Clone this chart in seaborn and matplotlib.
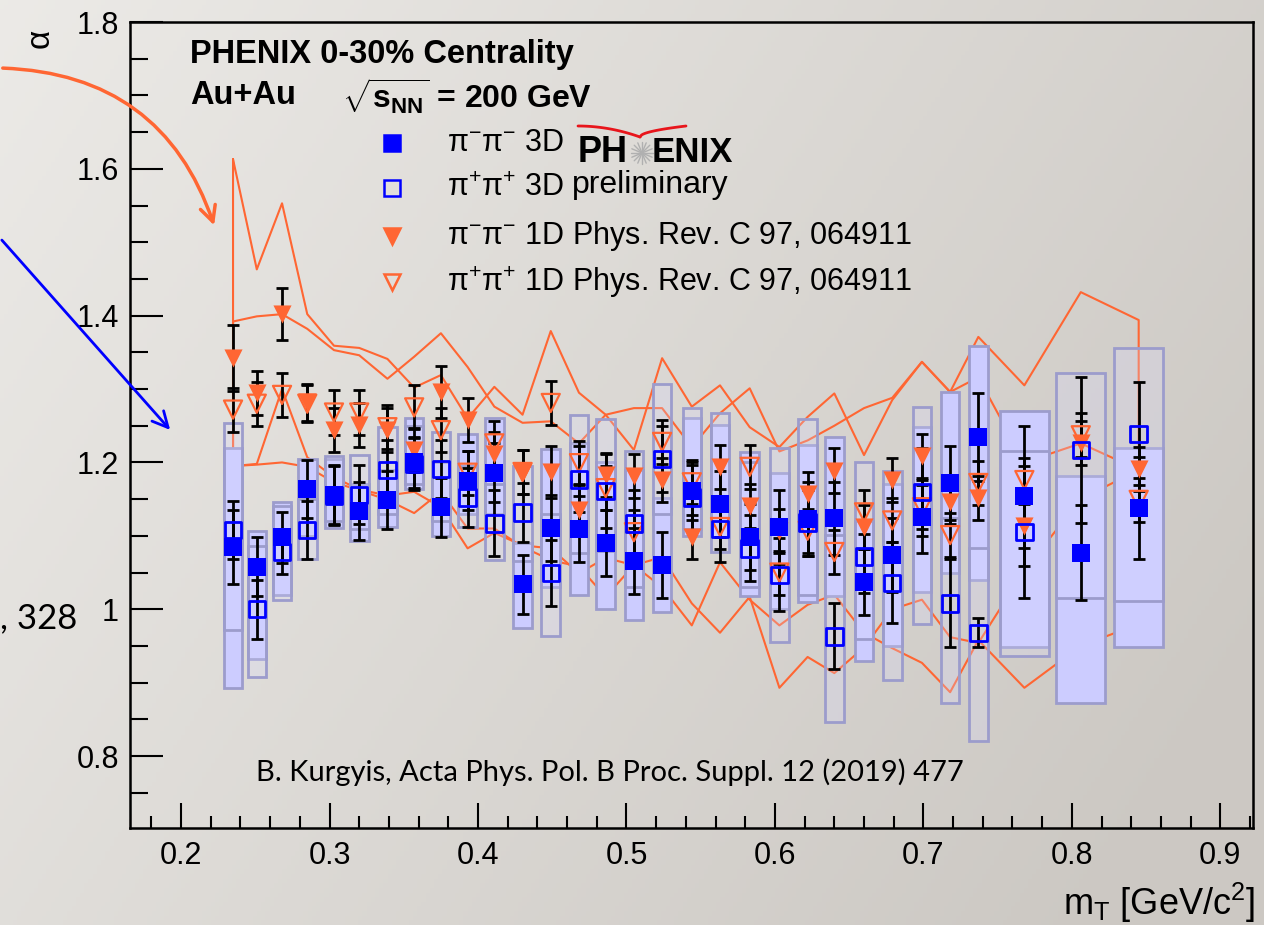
import numpy as np
import pandas as pd
import matplotlib
matplotlib.use('Agg')
import matplotlib.pyplot as plt
import seaborn as sns
from matplotlib.patches import Rectangle, FancyArrowPatch
from matplotlib.lines import Line2D

sns.set_style('ticks')
plt.rcParams['font.family'] = ['Liberation Sans', 'DejaVu Sans']
plt.rcParams['mathtext.fontset'] = 'custom'
plt.rcParams['mathtext.rm'] = 'Liberation Sans'
plt.rcParams['mathtext.it'] = 'Liberation Sans:italic'
plt.rcParams['mathtext.bf'] = 'Liberation Sans:bold'
for key in ['text.color', 'axes.labelcolor', 'xtick.color', 'ytick.color', 'axes.edgecolor']:
    plt.rcParams[key] = 'black'

# m_T bin centres [GeV/c^2]
mt = [0.235, 0.251, 0.268, 0.285, 0.303, 0.320, 0.339, 0.357, 0.375, 0.393,
      0.411, 0.430, 0.449, 0.468, 0.486, 0.505, 0.524, 0.544, 0.563, 0.583,
      0.603, 0.622, 0.640, 0.660, 0.679, 0.699, 0.718, 0.737, 0.768, 0.806, 0.845]
box_w = [0.0125] * 28 + [0.033] * 3

# 3D (preliminary) alpha values
a_mm3d = [1.085, 1.058, 1.098, 1.164, 1.156, 1.134, 1.149, 1.200, 1.139, 1.175,
          1.186, 1.034, 1.111, 1.109, 1.090, 1.066, 1.060, 1.161, 1.143, 1.098,
          1.112, 1.123, 1.124, 1.037, 1.074, 1.126, 1.172, 1.235, 1.154, 1.077, 1.138]
a_pp3d = [1.108, 1.000, 1.078, 1.108, 1.155, 1.156, 1.190, 1.198, 1.191, 1.152,
          1.117, 1.132, 1.049, 1.177, 1.161, 1.117, 1.205, 1.152, 1.109, 1.083,
          1.047, 1.118, 0.963, 1.072, 1.036, 1.160, 1.008, 0.968, 1.105, 1.217, 1.239]
err_mm3d = [0.050, 0.040, 0.035, 0.040, 0.040, 0.040, 0.040, 0.035, 0.040, 0.040,
            0.040, 0.040, 0.045, 0.045, 0.045, 0.045, 0.045, 0.040, 0.045, 0.045,
            0.050, 0.050, 0.050, 0.045, 0.050, 0.050, 0.050, 0.060, 0.095, 0.065, 0.070]
err_pp3d = [0.040, 0.040, 0.030, 0.040, 0.040, 0.040, 0.040, 0.035, 0.040, 0.040,
            0.045, 0.040, 0.045, 0.045, 0.050, 0.045, 0.045, 0.045, 0.045, 0.045,
            0.050, 0.045, 0.045, 0.050, 0.055, 0.060, 0.060, 0.020, 0.090, 0.100, 0.070]
# systematic boxes (low, high)
sys_mm_lo = [0.893, 0.932, 1.019, 1.100, 1.111, 1.093, 1.112, 1.164, 1.100, 1.130,
             1.130, 0.974, 1.030, 1.019, 1.000, 0.985, 0.996, 1.100, 1.099, 1.018,
             1.000, 1.010, 1.018, 0.930, 0.950, 1.023, 1.050, 1.040, 0.949, 0.872, 0.949]
sys_mm_hi = [1.220, 1.107, 1.146, 1.205, 1.205, 1.170, 1.190, 1.260, 1.200, 1.239,
             1.260, 1.090, 1.218, 1.226, 1.200, 1.190, 1.152, 1.260, 1.251, 1.214,
             1.186, 1.224, 1.235, 1.120, 1.170, 1.248, 1.296, 1.359, 1.270, 1.181, 1.219]
sys_pp_lo = [0.972, 0.908, 1.013, 1.068, 1.120, 1.110, 1.130, 1.170, 1.120, 1.112,
             1.067, 1.066, 0.963, 1.077, 1.080, 1.030, 1.130, 1.110, 1.078, 1.030,
             0.955, 1.020, 0.846, 0.960, 0.904, 0.980, 0.872, 0.820, 0.936, 1.015, 1.011]
sys_pp_hi = [1.254, 1.086, 1.140, 1.150, 1.209, 1.210, 1.248, 1.250, 1.241, 1.195,
             1.170, 1.195, 1.130, 1.265, 1.259, 1.216, 1.307, 1.274, 1.267, 1.200,
             1.220, 1.259, 1.101, 1.200, 1.188, 1.276, 1.124, 1.083, 1.216, 1.322, 1.356]

# 1D values, Phys. Rev. C 97, 064911
a_mm1d = [1.342, 1.295, 1.402, 1.282, 1.244, 1.251, 1.244, 1.217, 1.296, 1.258,
          1.211, 1.187, 1.187, 1.135, 1.183, 1.181, 1.176, 1.098, 1.194, 1.141,
          1.107, 1.157, 1.189, 1.112, 1.176, 1.209, 1.146, 1.151, 1.113, 1.226, 1.191]
a_pp1d = [1.272, 1.280, 1.292, 1.280, 1.268, 1.268, 1.248, 1.275, 1.244, 1.186,
          1.226, 1.187, 1.281, 1.199, 1.165, 1.105, 1.228, 1.173, 1.112, 1.194,
          1.050, 1.107, 1.078, 1.132, 1.121, 1.139, 1.101, 1.172, 1.176, 1.237, 1.149]
err_mm1d = [0.045, 0.030, 0.035, 0.025, 0.030, 0.030, 0.030, 0.030, 0.035, 0.030,
            0.030, 0.030, 0.035, 0.035, 0.030, 0.030, 0.030, 0.030, 0.030, 0.030,
            0.030, 0.030, 0.030, 0.030, 0.030, 0.030, 0.030, 0.030, 0.030, 0.030, 0.030]
err_pp1d = [0.030, 0.030, 0.030, 0.025, 0.030, 0.030, 0.030, 0.030, 0.030, 0.030,
            0.030, 0.030, 0.030, 0.030, 0.030, 0.030, 0.030, 0.030, 0.030, 0.030,
            0.030, 0.030, 0.030, 0.030, 0.030, 0.030, 0.030, 0.030, 0.030, 0.030, 0.030]
# 1D systematic band outlines
band_mm_hi = [1.613, 1.463, 1.553, 1.402, 1.359, 1.356, 1.341, 1.302, 1.319, 1.260,
              1.303, 1.265, 1.379, 1.295, 1.265, 1.217, 1.342, 1.276, 1.305, 1.248,
              1.221, 1.262, 1.294, 1.210, 1.285, 1.337, 1.296, 1.371, 1.305, 1.432, 1.394]
band_mm_lo = [1.195, 1.198, 1.300, 1.207, 1.180, 1.163, 1.155, 1.160, 1.139, 1.083,
              1.104, 1.087, 1.083, 1.049, 1.070, 1.060, 1.071, 1.008, 0.968, 1.017,
              0.893, 0.935, 0.913, 0.948, 1.000, 1.013, 0.962, 0.954, 1.053, 1.150, 1.190]
band_pp_hi = [1.392, 1.399, 1.402, 1.382, 1.353, 1.346, 1.314, 1.344, 1.376, 1.330,
              1.276, 1.254, 1.256, 1.226, 1.265, 1.274, 1.274, 1.221, 1.267, 1.301,
              1.215, 1.230, 1.250, 1.274, 1.288, 1.337, 1.296, 1.316, 1.200, 1.226, 1.190]
band_pp_lo = [1.195, 1.197, 1.200, 1.194, 1.173, 1.162, 1.149, 1.131, 1.160, 1.110,
              1.110, 1.085, 1.067, 1.058, 1.017, 1.060, 1.030, 0.978, 1.064, 1.013,
              0.978, 1.006, 1.020, 0.968, 0.947, 0.927, 0.887, 0.958, 0.893, 0.950, 0.980]

df = pd.DataFrame({'mt': mt, 'mm3d': a_mm3d, 'pp3d': a_pp3d,
                   'mm1d': a_mm1d, 'pp1d': a_pp1d})

W, H = 1264, 925
ORANGE = '#ff6633'
BLUE = '#0000ff'
fig = plt.figure(figsize=(W / 100, H / 100), dpi=100)

# slide background
bg = fig.add_axes([0, 0, 1, 1], zorder=-10)
yy, xx = np.mgrid[0:1:200j, 0:1:300j]
t = np.clip(0.75 * xx + 0.35 * yy, 0, 1)
c0 = np.array([0.925, 0.918, 0.905])
c1 = np.array([0.80, 0.785, 0.765])
bg.imshow(c0 + (c1 - c0) * t[..., None], extent=[0, 1, 0, 1], aspect='auto')
bg.axis('off')

ax = fig.add_axes([130 / W, 1 - 828 / H, (1253 - 130) / W, (828 - 22) / H])
ax.patch.set_alpha(0)

# 1D systematic bands (outlines)
for hi, lo in [(band_mm_hi, band_mm_lo), (band_pp_hi, band_pp_lo)]:
    xs = mt + mt[::-1] + [mt[0]]
    ys = hi + lo[::-1] + [hi[0]]
    ax.plot(xs, ys, color=ORANGE, lw=1.5, zorder=1)

# 3D systematic boxes
for i in range(len(mt)):
    w = box_w[i]
    ax.add_patch(Rectangle((mt[i] - w / 2, sys_mm_lo[i]), w, sys_mm_hi[i] - sys_mm_lo[i],
                           facecolor='#ccccff', edgecolor='#9c9ccc', lw=2, zorder=2))
    ax.add_patch(Rectangle((mt[i] - w / 2, sys_pp_lo[i]), w, sys_pp_hi[i] - sys_pp_lo[i],
                           facecolor=(0.85, 0.85, 1.0, 0.25), edgecolor='#9c9ccc', lw=2, zorder=3))

# statistical errors
for y, e in [(a_mm3d, err_mm3d), (a_pp3d, err_pp3d), (a_mm1d, err_mm1d), (a_pp1d, err_pp1d)]:
    ax.errorbar(mt, y, yerr=e, fmt='none', ecolor='black', elinewidth=2,
                capsize=4, capthick=2, zorder=4)

sns.scatterplot(data=df, x='mt', y='pp1d', marker='v', s=170, fc='none',
                ec=ORANGE, linewidth=1.6, ax=ax, zorder=5)
sns.scatterplot(data=df, x='mt', y='mm1d', marker='v', s=170, color=ORANGE,
                linewidth=0, ax=ax, zorder=6)
sns.scatterplot(data=df, x='mt', y='mm3d', marker='s', s=150, color=BLUE,
                linewidth=0, ax=ax, zorder=7)
sns.scatterplot(data=df, x='mt', y='pp3d', marker='s', s=140, fc='none',
                ec=BLUE, linewidth=2, ax=ax, zorder=8)

ax.set_xlim(0.1656, 0.922)
ax.set_ylim(0.702, 1.8)
ax.set_xticks(np.arange(0.2, 0.91, 0.1))
ax.set_xticks(np.arange(0.18, 0.921, 0.02), minor=True)
ax.set_yticks(np.arange(0.8, 1.81, 0.2))
ax.set_yticks(np.arange(0.75, 1.8, 0.05), minor=True)
ax.set_xticklabels(['0.2', '0.3', '0.4', '0.5', '0.6', '0.7', '0.8', '0.9'])
ax.set_yticklabels(['0.8', '1', '1.2', '1.4', '1.6', '1.8'])
ax.tick_params(axis='y', which='major', direction='in', length=24, width=1.5,
               labelsize=22, pad=8)
ax.tick_params(axis='y', which='minor', direction='in', length=13, width=1.5)
ax.tick_params(axis='x', which='major', direction='in', length=18, width=1.5,
               labelsize=22, pad=9)
ax.tick_params(axis='x', which='minor', direction='in', length=9, width=1.5)
for sp in ax.spines.values():
    sp.set_linewidth(1.8)
    sp.set_color('black')
ax.set_xlabel('')
ax.set_ylabel('')


def ftext(x, y, s, **kw):
    fig.text(x / W, 1 - y / H, s, **kw)


ftext(40, 38, 'α', fontsize=24, rotation=90, ha='center', va='center')
ftext(1255, 903, r'm$_{\rm T}$ [GeV/c$^{2}$]', fontsize=26, ha='right', va='center')

ftext(190, 55, 'PHENIX 0-30% Centrality', fontsize=23.5, fontweight='bold', va='center')
ftext(190, 96, 'Au+Au', fontsize=23.5, fontweight='bold', va='center')
ftext(342, 96, r'$\mathbf{\sqrt{s_{NN}}}$ = 200 GeV', fontsize=23,
      fontweight='bold', va='center')

# legend
leg_rows = [
    (143, 's', BLUE, BLUE, 'π$^{-}$π$^{-}$ 3D'),
    (188, 's', 'none', BLUE, 'π$^{+}$π$^{+}$ 3D'),
    (236, 'v', ORANGE, ORANGE, 'π$^{-}$π$^{-}$ 1D Phys. Rev. C 97, 064911'),
    (282, 'v', 'none', ORANGE, 'π$^{+}$π$^{+}$ 1D Phys. Rev. C 97, 064911'),
]
for yrow, mk, fc, ec, lab in leg_rows:
    fig.add_artist(Line2D([392 / W], [1 - yrow / H], marker=mk, markersize=12,
                          markerfacecolor=fc, markeredgecolor=ec, markeredgewidth=1.8,
                          linestyle='none', transform=fig.transFigure))
    ftext(447, yrow, lab, fontsize=22, va='center')

# PHENIX preliminary logo
ftext(578, 153, 'PH', fontsize=26, fontweight='bold', va='center')
ftext(652, 153, 'ENIX', fontsize=25, fontweight='bold', va='center')
ftext(572, 185, 'preliminary', fontsize=23, va='center')
for ang in np.linspace(0, np.pi, 8, endpoint=False):
    dx, dy = 11 * np.cos(ang), 11 * np.sin(ang)
    fig.add_artist(Line2D([(642 - dx) / W, (642 + dx) / W],
                          [1 - (153 - dy) / H, 1 - (153 + dy) / H],
                          color='#b0b0b0', lw=1, transform=fig.transFigure))
uu = np.linspace(0, 1, 30)
fig.add_artist(Line2D((578 + 62 * uu) / W, 1 - (126 + 11 * uu ** 2) / H,
                      color='#e8151b', lw=2, transform=fig.transFigure))
fig.add_artist(Line2D((640 + 46 * uu) / W, 1 - (137 - 11 * np.sqrt(uu)) / H,
                      color='#e8151b', lw=2, transform=fig.transFigure))

ftext(610, 772, 'B. Kurgyis, Acta Phys. Pol. B Proc. Suppl. 12 (2019) 477',
      fontsize=21, family='Lato', ha='center', va='center')

# pieces of the slide outside the frame
ftext(0, 618, ', 328', fontsize=25, family='Lato', va='center')
fig.add_artist(FancyArrowPatch((0, 1 - 68 / H), (215 / W, 1 - 228 / H),
                               transform=fig.transFigure,
                               connectionstyle='arc3,rad=-0.35', arrowstyle='->',
                               mutation_scale=28, color=ORANGE, lw=2.5))
fig.add_artist(FancyArrowPatch((0, 1 - 238 / H), (172 / W, 1 - 432 / H),
                               transform=fig.transFigure, arrowstyle='->',
                               mutation_scale=28, color=BLUE, lw=2))

fig.savefig('out.png', dpi=100)
